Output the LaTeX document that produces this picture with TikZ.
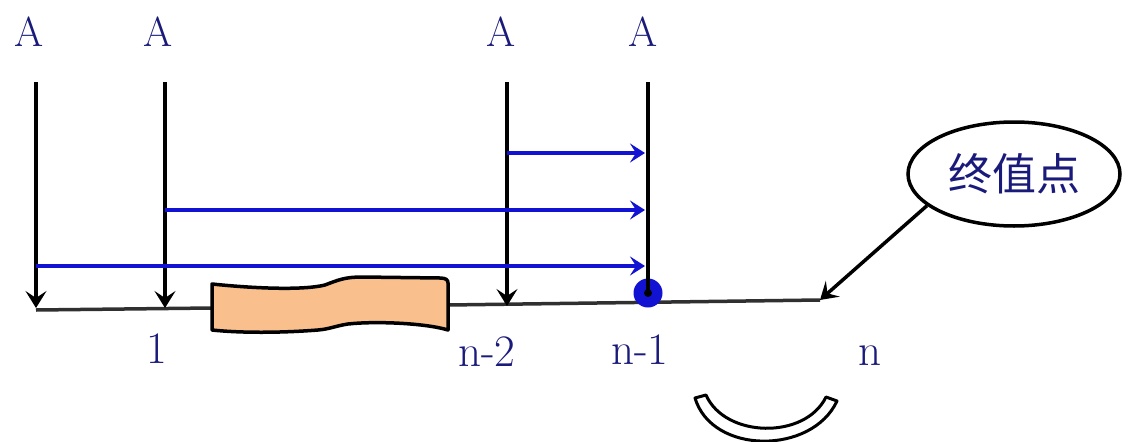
\documentclass[tikz,border=0pt]{standalone}
\usepackage{fontspec}
\newfontfamily\cjk{Noto Sans CJK SC}
\usetikzlibrary{arrows.meta,shapes.geometric}
\definecolor{navy}{HTML}{1A1A7A}
\definecolor{lblue}{HTML}{1212D2}
\definecolor{peach}{HTML}{F9C08E}
\definecolor{tline}{HTML}{303030}
\begin{document}
\begin{tikzpicture}[x=1pt,y=-1pt,
  lab/.style={text=navy,font=\fontsize{42}{42}\selectfont,inner sep=0pt},
  vline/.style={line width=3.5pt,-{Stealth[length=17pt,width=21pt,inset=7pt]}},
  barrow/.style={draw=lblue,line width=4.5pt,-{Stealth[length=15pt,width=19pt,inset=6pt]}},
  axis/.style={draw=tline,line width=3.5pt},
]
\useasboundingbox (0,0) rectangle (1128,442);
% A labels
\node[lab] (A1) at (29,32) {A};
\node[lab] (A2) at (158,32) {A};
\node[lab] (A3) at (501,32) {A};
\node[lab] (A4) at (643,32) {A};
% coordinates
\coordinate (t1) at (36,82);  \coordinate (b1) at (36,308);
\coordinate (t2) at (165,82); \coordinate (b2) at (165,308);
\coordinate (t3) at (507,82); \coordinate (b3) at (507,306);
\coordinate (t4) at (648,82);
\coordinate (L0) at (36,310);  \coordinate (L1) at (212,308);
\coordinate (L2) at (448,305); \coordinate (L3) at (820,300);
% timeline
\draw[axis] (L0) -- (L1);
\draw[axis] (L2) -- (L3);
% wavy box
\draw[fill=peach,line width=3.5pt,line join=round]
  (212,284) .. controls (260,289) and (305,290) .. (325,285)
  .. controls (338,280) and (345,277) .. (362,277) -- (440,278)
  .. controls (446,278) and (448,280) .. (448,283) -- (448,330)
  .. controls (425,323) and (375,321) .. (348,324)
  .. controls (335,326) and (330,329) .. (318,330)
  .. controls (280,333) and (240,333) .. (212,330) -- cycle;
% dot
\node[circle,fill=lblue,minimum size=29pt,inner sep=0pt] (dot) at (648,293) {};
% vertical lines
\draw[vline] (t1) -- (b1);
\draw[vline] (t2) -- (b2);
\draw[vline] (t3) -- (b3);
\draw[line width=3.5pt] (t4) -- (dot.center);
\fill[black] (dot.center) circle (4);
% blue arrows
\coordinate (s1) at (507,153); \coordinate (e1) at (645,153);
\coordinate (s2) at (165,210); \coordinate (e2) at (645,210);
\coordinate (s3) at (36,266);  \coordinate (e3) at (645,266);
\draw[barrow] (s1) -- (e1);
\draw[barrow] (s2) -- (e2);
\draw[barrow] (s3) -- (e3);
% bottom labels
\node[lab,font=\fontsize{45}{45}\selectfont] (l1) at (157,349) {1};
\node[lab,font=\fontsize{45}{45}\selectfont] (l2) at (487,352) {n-2};
\node[lab,font=\fontsize{45}{45}\selectfont] (l3) at (640,350) {n-1};
\node[lab,font=\fontsize{45}{45}\selectfont] (l4) at (870,356) {n};
% ellipse
\node[ellipse,draw,line width=3.5pt,minimum width=212pt,minimum height=104pt,inner sep=0pt,
  text=navy,font=\cjk\fontsize{44}{44}\selectfont] (E) at (1014,174) {终值点};
\draw[line width=3.5pt,-{Stealth[length=17pt,width=21pt,inset=7pt]}] (E.200) -- (L3);
% curved hollow arrow
\draw[line width=3pt,fill=white,line join=round]
  (695,398) -- (706,395) .. controls (725,438) and (805,440) .. (826,397)
  -- (837,401) .. controls (812,455) and (712,455) .. cycle;
\end{tikzpicture}
\end{document}
